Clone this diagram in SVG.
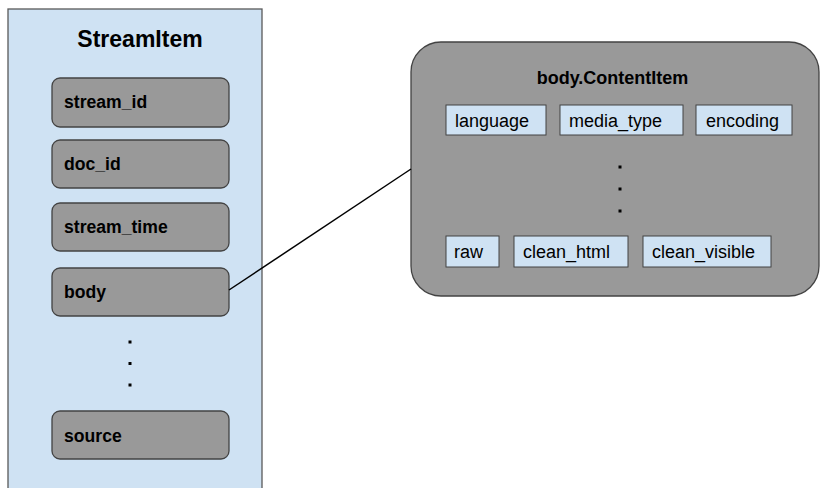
<svg xmlns="http://www.w3.org/2000/svg" width="820" height="488" viewBox="0 0 820 488">
  <style>
    .panel { fill: #cfe2f3; stroke: #595959; stroke-width: 1.3; }
    .field { fill: #999999; stroke: #434343; stroke-width: 1.3; }
    .field-label { font-family: "Liberation Sans", Arial, sans-serif; font-size: 17.6px; font-weight: bold; fill: #000; }
    .title { font-family: "Liberation Sans", Arial, sans-serif; font-weight: bold; fill: #000; text-anchor: middle; }
    .attr { fill: #cfe2f3; stroke: #434343; stroke-width: 1; }
    .attr-label { font-family: "Liberation Sans", Arial, sans-serif; font-size: 18px; fill: #000; }
    .dot { fill: #000; }
    .link { stroke: #000; stroke-width: 1.5; fill: none; }
  </style>

  <rect width="820" height="488" fill="#ffffff"/>

  <!-- StreamItem container -->
  <g id="streamitem">
    <rect class="panel" x="8" y="9" width="254" height="490"/>
    <text class="title" x="140" y="47" font-size="23">StreamItem</text>
  </g>

  <g id="stream_id">
    <rect class="field" x="52" y="78" width="177" height="49" rx="8"/>
    <text class="field-label" x="64" y="108">stream_id</text>
  </g>
  <g id="doc_id">
    <rect class="field" x="52" y="140" width="177" height="48" rx="8"/>
    <text class="field-label" x="64" y="170">doc_id</text>
  </g>
  <g id="stream_time">
    <rect class="field" x="52" y="203" width="177" height="48" rx="8"/>
    <text class="field-label" x="64" y="233">stream_time</text>
  </g>
  <g id="body">
    <rect class="field" x="52" y="268" width="177" height="48" rx="8"/>
    <text class="field-label" x="64" y="298">body</text>
  </g>
  <g id="stream_ellipsis">
    <rect class="dot" x="128.5" y="340.5" width="3" height="3"/>
    <rect class="dot" x="128.5" y="362" width="3" height="3"/>
    <rect class="dot" x="128.5" y="383.5" width="3" height="3"/>
  </g>
  <g id="source">
    <rect class="field" x="52" y="411" width="177" height="48" rx="8"/>
    <text class="field-label" x="64" y="441.5">source</text>
  </g>

  <!-- body.ContentItem -->
  <g id="contentitem">
    <rect class="field" x="411" y="42" width="408" height="254" rx="30"/>
    <text class="title" x="612.5" y="84" font-size="18">body.ContentItem</text>
  </g>

  <g id="language">
    <rect class="attr" x="446" y="105" width="100" height="30"/>
    <text class="attr-label" x="455" y="127">language</text>
  </g>
  <g id="media_type">
    <rect class="attr" x="560" y="105" width="123" height="30"/>
    <text class="attr-label" x="569" y="127">media_type</text>
  </g>
  <g id="encoding">
    <rect class="attr" x="696" y="105" width="96" height="30"/>
    <text class="attr-label" x="706" y="127">encoding</text>
  </g>

  <g id="content_ellipsis">
    <rect class="dot" x="618.5" y="165.5" width="3" height="3"/>
    <rect class="dot" x="618.5" y="187.5" width="3" height="3"/>
    <rect class="dot" x="618.5" y="209.5" width="3" height="3"/>
  </g>

  <g id="raw">
    <rect class="attr" x="446" y="236" width="53" height="31"/>
    <text class="attr-label" x="454" y="258">raw</text>
  </g>
  <g id="clean_html">
    <rect class="attr" x="514" y="236" width="114" height="31"/>
    <text class="attr-label" x="523" y="258">clean_html</text>
  </g>
  <g id="clean_visible">
    <rect class="attr" x="643" y="236" width="128" height="31"/>
    <text class="attr-label" x="652" y="258">clean_visible</text>
  </g>

  <!-- connectors -->
  <g id="connectors">
    <line class="link" x1="229" y1="290" x2="411" y2="169"/>
  </g>
</svg>
